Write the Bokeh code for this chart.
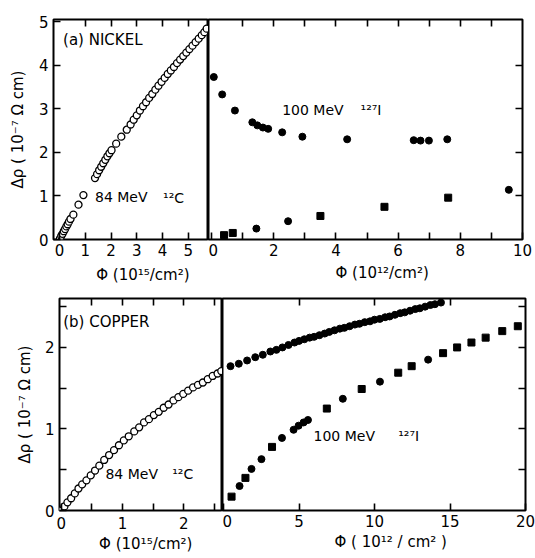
from bokeh.plotting import figure
from bokeh.layouts import column, row
from bokeh.models import LinearAxis, FixedTicker, Label, ColumnDataSource, Range1d
from bokeh.core.properties import field
from bokeh.embed import file_html
from bokeh.resources import INLINE

FONT = "DejaVu Sans"
NB = "\u00a0"

# ---------------- data ----------------
# (a) Nickel, 84 MeV 12C  (fluence 1e15 / cm2)
ni_c_x = [0.02, 0.07, 0.12, 0.17, 0.22, 0.27, 0.32, 0.37, 0.43, 0.54, 0.74, 0.93,
          1.38, 1.46, 1.54, 1.62, 1.70, 1.78, 1.86, 1.94, 2.02, 2.20, 2.40, 2.61,
          2.76, 2.88, 3.00, 3.12, 3.24, 3.36, 3.48, 3.60, 3.72, 3.84, 3.96, 4.08,
          4.20, 4.32, 4.44, 4.56, 4.68, 4.80, 4.92, 5.04, 5.16, 5.28, 5.40, 5.52, 5.62, 5.71]
ni_c_y = [0.02, 0.08, 0.13, 0.19, 0.24, 0.30, 0.35, 0.41, 0.47, 0.57, 0.80, 1.02,
          1.41, 1.50, 1.59, 1.67, 1.75, 1.83, 1.91, 1.98, 2.05, 2.20, 2.36, 2.52,
          2.64, 2.75, 2.85, 2.96, 3.06, 3.15, 3.25, 3.34, 3.44, 3.53, 3.62, 3.71,
          3.80, 3.88, 3.96, 4.05, 4.13, 4.21, 4.29, 4.37, 4.45, 4.53, 4.61, 4.69, 4.76, 4.84]
# (a) Nickel, 100 MeV 127I (fluence 1e12 / cm2)
ni_i_up_x = [0.07, 0.34, 0.75, 1.31, 1.47, 1.65, 1.82, 2.27, 2.92, 4.36, 6.50, 6.72, 6.99, 7.58]
ni_i_up_y = [3.73, 3.33, 2.96, 2.69, 2.62, 2.57, 2.54, 2.46, 2.36, 2.30, 2.28, 2.27, 2.27, 2.30]
ni_i_lo_x = [0.40, 0.68, 1.44, 2.46, 3.50, 5.56, 7.61, 9.56]
ni_i_lo_y = [0.10, 0.15, 0.25, 0.42, 0.54, 0.75, 0.96, 1.14]
ni_i_lo_m = ["square", "square", "circle", "circle", "square", "square", "square", "circle"]

# (b) Copper, 84 MeV 12C
cu_c_x = [0.00, 0.05, 0.10, 0.16, 0.22, 0.28, 0.34, 0.41, 0.48, 0.55,
          0.62, 0.70, 0.78, 0.86, 0.94, 1.02, 1.10, 1.19, 1.27, 1.35,
          1.43, 1.51, 1.59, 1.67, 1.75, 1.83, 1.91, 1.99, 2.07, 2.15,
          2.23, 2.31, 2.39, 2.47, 2.55, 2.61]
cu_c_y = [0.00, 0.05, 0.10, 0.15, 0.21, 0.27, 0.32, 0.37, 0.43, 0.49,
          0.55, 0.62, 0.68, 0.74, 0.80, 0.86, 0.91, 0.97, 1.02, 1.08,
          1.12, 1.17, 1.21, 1.26, 1.30, 1.35, 1.39, 1.43, 1.47, 1.51,
          1.54, 1.57, 1.61, 1.65, 1.68, 1.71]
# (b) Copper, 100 MeV 127I
cu_i_up_x = [0.46, 1.01, 1.56, 2.10, 2.60, 3.10, 3.50, 3.90, 4.30, 4.70, 5.00, 5.35, 5.70,
             6.00, 6.35, 6.70, 7.00, 7.35, 7.70, 8.00, 8.35, 8.70, 9.00, 9.35, 9.70, 10.00,
             10.35, 10.70, 11.00, 11.35, 11.70, 12.00, 12.35, 12.70, 13.00, 13.35, 13.70, 14.00, 14.40]
cu_i_up_y = [1.77, 1.80, 1.84, 1.88, 1.91, 1.95, 1.97, 2.00, 2.03, 2.06, 2.08, 2.10, 2.12,
             2.13, 2.15, 2.17, 2.19, 2.21, 2.23, 2.24, 2.26, 2.28, 2.29, 2.31, 2.32, 2.34,
             2.35, 2.37, 2.38, 2.40, 2.42, 2.43, 2.45, 2.47, 2.48, 2.50, 2.52, 2.53, 2.55]
cu_i_lo_x = [0.53, 1.06, 1.45, 1.85, 2.51, 3.21, 3.87, 4.64, 4.97, 5.30, 5.59, 6.84,
             7.90, 9.15, 10.36, 11.57, 12.46, 13.55, 14.54, 15.47, 16.42, 17.36, 18.46, 19.49]
cu_i_lo_y = [0.17, 0.30, 0.40, 0.51, 0.63, 0.78, 0.89, 0.99, 1.04, 1.08, 1.11, 1.25,
             1.37, 1.49, 1.58, 1.69, 1.77, 1.85, 1.93, 2.00, 2.06, 2.12, 2.20, 2.26]
cu_i_lo_m = ["square", "circle", "square", "circle", "circle", "square", "circle", "circle",
             "circle", "circle", "circle", "square", "circle", "square", "circle", "square",
             "square", "circle", "square", "square", "square", "square", "square", "square"]

# axis titles and in-plot labels
ylab = "\u0394\u03c1 ( 10\u207b\u2077 \u03a9 cm)"
xlab_c = "\u03a6 (10\u00b9\u2075/cm\u00b2)"
xlab_i = "\u03a6 (10\u00b9\u00b2/cm\u00b2)"
xlab_i_b = "\u03a6 ( 10\u00b9\u00b2 / cm\u00b2 )"


# ---------------- helpers ----------------
def make_fig(w, h, xr, yr, bl, br, bt, bb):
    p = figure(width=w, height=h, x_range=Range1d(*xr), y_range=Range1d(*yr),
               output_backend="svg", toolbar_location=None,
               x_axis_location=None, y_axis_location=None,
               min_border_left=bl, min_border_right=br,
               min_border_top=bt, min_border_bottom=bb)
    p.xgrid.grid_line_color = None
    p.ygrid.grid_line_color = None
    p.outline_line_color = "black"
    p.outline_line_width = 2
    p.outline_line_alpha = 1
    p.background_fill_color = "white"
    p.border_fill_color = "white"
    return p


def add_axis(p, loc, ticks, minor=(), labels=True, standoff=5, title=None, title_standoff=8):
    ticks = list(ticks)
    ax = LinearAxis(ticker=FixedTicker(ticks=ticks, minor_ticks=list(minor)))
    ax.axis_line_color = None
    ax.major_tick_in = 7
    ax.major_tick_out = 0
    ax.minor_tick_in = 7
    ax.minor_tick_out = 0
    ax.major_tick_line_width = 1.6
    ax.minor_tick_line_width = 1.6
    ax.major_tick_line_color = "black"
    ax.minor_tick_line_color = "black"
    ax.major_label_text_font = FONT
    ax.major_label_text_font_size = "15px"
    ax.major_label_text_color = "black"
    if labels:
        ax.major_label_standoff = standoff
    else:
        ax.major_label_overrides = {t: "" for t in ticks}
        ax.major_label_standoff = 0
    if title is not None:
        ax.axis_label = title
        ax.axis_label_text_font = FONT
        ax.axis_label_text_font_size = "15px"
        ax.axis_label_text_font_style = "normal"
        ax.axis_label_text_color = "black"
        ax.axis_label_standoff = title_standoff
    p.add_layout(ax, loc)
    return ax


def add_text(p, x, y, txt, size="14px", align="left"):
    p.add_layout(Label(x=x, y=y, text=txt, text_font=FONT, text_font_size=size,
                       text_align=align, text_baseline="middle", text_color="black"))


OPEN = dict(size=7, line_color="black", line_width=1.3, fill_color="white")
FILL = dict(size=7, line_color="black", fill_color="black")

# ---------------- panel (a) ----------------
HA, BA = 286, 46
a_l = make_fig(208, HA, (-0.23, 5.78), (0, 5.05), 53, 0, 19, BA)
add_axis(a_l, "left", range(0, 6), title=ylab, title_standoff=9)
add_axis(a_l, "below", range(0, 6), standoff=4, title=NB * 5 + xlab_c, title_standoff=7)
add_axis(a_l, "above", range(1, 6), labels=False)
a_l.scatter(ni_c_x, ni_c_y, marker="circle", **OPEN)
add_text(a_l, 0.14, 4.58, "(a) NICKEL", size="15px")
add_text(a_l, 1.38, 0.97, "84 MeV")
add_text(a_l, 4.02, 0.95, "\u00b9\u00b2C")

a_r = make_fig(327, HA, (-0.1, 10.0), (0, 5.05), 0, 13, 19, BA)
add_axis(a_r, "below", range(0, 11, 2), minor=range(1, 10, 2), standoff=4,
         title=NB * 7 + xlab_i, title_standoff=5)
add_axis(a_r, "above", range(1, 10), labels=False)
add_axis(a_r, "right", range(1, 5), labels=False)
a_r.scatter(ni_i_up_x, ni_i_up_y, marker="circle", **FILL)
src_a = ColumnDataSource(dict(x=ni_i_lo_x, y=ni_i_lo_y, m=ni_i_lo_m))
a_r.scatter(x="x", y="y", marker=field("m"), source=src_a, **FILL)
add_text(a_r, 2.27, 2.97, "100 MeV")
add_text(a_r, 4.79, 2.97, "\u00b9\u00b2\u2077I")

# ---------------- panel (b) ----------------
HB = 558 - HA
b_l = make_fig(222, HB, (-0.03, 2.63), (0, 2.6), 59, 0, 12, 48)
add_axis(b_l, "left", [0, 1, 2], minor=[0.5, 1.5, 2.5], title=ylab, title_standoff=8)
add_axis(b_l, "below", [0, 1, 2], minor=[0.5, 1.5, 2.5], standoff=6,
         title=NB * 2 + xlab_c, title_standoff=3)
add_axis(b_l, "above", [0.5, 1, 1.5, 2, 2.5], labels=False)
b_l.scatter(cu_c_x, cu_c_y, marker="circle", **OPEN)
add_text(b_l, 0.03, 2.31, "(b) COPPER", size="15px")
add_text(b_l, 0.72, 0.45, "84 MeV")
add_text(b_l, 1.81, 0.45, "\u00b9\u00b2C")

b_r = make_fig(313, HB, (-0.07, 20.0), (0, 2.6), 0, 10, 12, 48)
add_axis(b_r, "below", [0, 5, 10, 15, 20], standoff=4,
         title=NB * 7 + xlab_i_b, title_standoff=3)
add_axis(b_r, "above", [5, 10, 15], labels=False)
add_axis(b_r, "right", [0.5, 1, 1.5, 2, 2.5], labels=False)
b_r.scatter(cu_i_up_x, cu_i_up_y, marker="circle", **FILL)
src_b = ColumnDataSource(dict(x=cu_i_lo_x, y=cu_i_lo_y, m=cu_i_lo_m))
b_r.scatter(x="x", y="y", marker=field("m"), source=src_b, **FILL)
add_text(b_r, 5.96, 0.91, "100 MeV")
add_text(b_r, 11.57, 0.91, "\u00b9\u00b2\u2077I")

layout = column(row(a_l, a_r, spacing=0), row(b_l, b_r, spacing=0), spacing=0)

open("out.html", "w").write(file_html(layout, INLINE))
